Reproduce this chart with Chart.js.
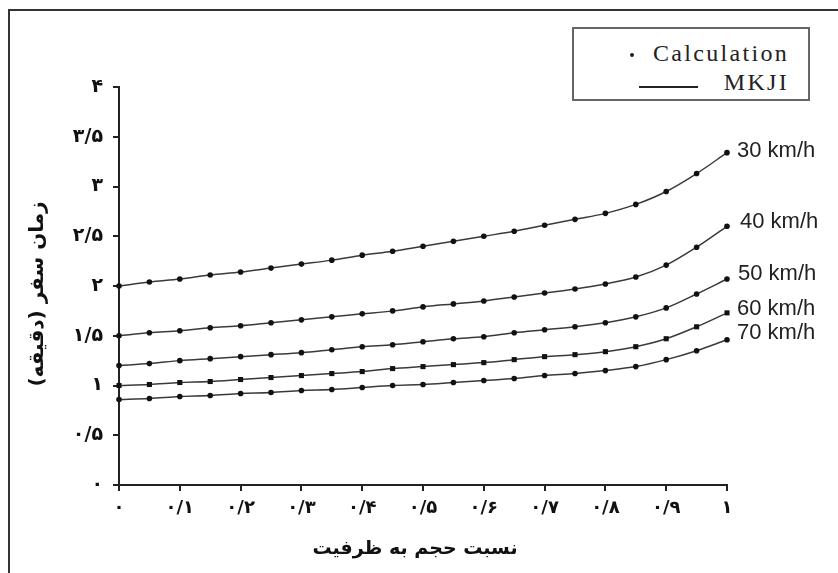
<!DOCTYPE html>
<html lang="fa">
<head>
<meta charset="utf-8">
<script src="https://cdn.jsdelivr.net/npm/chart.js@4/dist/chart.umd.min.js"></script>
<style>
  html, body { margin: 0; padding: 0; background: #fff; overflow: hidden; }
  #wrap { position: relative; width: 838px; height: 573px; }
  #frame { position: absolute; left: 8px; top: 9px; width: 900px; height: 700px;
           border-left: 2px solid #333; border-top: 2px solid #333; }
  #chart { position: absolute; left: 0; top: 0; }
  #legend { position: absolute; left: 572px; top: 27px; width: 234px; height: 70px;
            border: 2px solid #666; background: #fff;
            font-family: "Liberation Serif", "Times New Roman", serif; font-size: 24px;
            color: #222; letter-spacing: 2.3px; }
  #legend .dot { position: absolute; left: 56px; top: 24px; width: 4px; height: 4px;
                 border-radius: 50%; background: #222; }
  #legend .line { position: absolute; left: 65px; top: 57px; width: 59px; height: 2px; background: #222; }
  #legend .t1 { position: absolute; right: 19px; top: 11px; }
  #legend .t2 { position: absolute; right: 19px; top: 40px; }
</style>
</head>
<body>
<div id="wrap">
  <div id="frame"></div>
  <canvas id="chart" width="838" height="573"></canvas>
  <div id="legend">
    <span class="dot"></span><span class="t1">Calculation</span>
    <span class="line"></span><span class="t2">MKJI</span>
  </div>
</div>
<script>
// نسبت حجم به ظرفیت (v/c)
const xValues = [0, 0.05, 0.1, 0.15, 0.2, 0.25, 0.3, 0.35, 0.4, 0.45, 0.5,
                 0.55, 0.6, 0.65, 0.7, 0.75, 0.8, 0.85, 0.9, 0.95, 1];

// زمان سفر (دقیقه) per speed
const speed30 = [2.00, 2.04, 2.07, 2.11, 2.14, 2.18, 2.22, 2.26, 2.31, 2.35, 2.40,
                 2.45, 2.50, 2.55, 2.61, 2.67, 2.73, 2.82, 2.95, 3.13, 3.34];
const speed40 = [1.50, 1.53, 1.55, 1.58, 1.60, 1.63, 1.66, 1.69, 1.72, 1.75, 1.79,
                 1.82, 1.85, 1.89, 1.93, 1.97, 2.02, 2.09, 2.21, 2.39, 2.60];
const speed50 = [1.20, 1.22, 1.25, 1.27, 1.29, 1.31, 1.33, 1.36, 1.39, 1.41, 1.44,
                 1.47, 1.49, 1.53, 1.56, 1.59, 1.63, 1.69, 1.78, 1.92, 2.07];
const speed60 = [1.00, 1.01, 1.03, 1.04, 1.06, 1.08, 1.10, 1.12, 1.14, 1.17, 1.19,
                 1.21, 1.23, 1.26, 1.29, 1.31, 1.34, 1.39, 1.47, 1.59, 1.73];
const speed70 = [0.86, 0.87, 0.89, 0.90, 0.92, 0.93, 0.95, 0.96, 0.98, 1.00, 1.01,
                 1.03, 1.05, 1.07, 1.10, 1.12, 1.15, 1.19, 1.26, 1.35, 1.46];

const speedLabels = ["30 km/h", "40 km/h", "50 km/h", "60 km/h", "70 km/h"];
const xTickLabels = ["۰", "۰/۱", "۰/۲", "۰/۳", "۰/۴", "۰/۵", "۰/۶", "۰/۷", "۰/۸", "۰/۹", "۱"];
const yTickLabels = ["۰", "۰/۵", "۱", "۱/۵", "۲", "۲/۵", "۳", "۳/۵", "۴"];
const xTitle = "نسبت حجم به ظرفیت";
const yTitle = "زمان سفر (دقیقه)\u200F";

// label placement next to the last point of each curve
const labelDx = [10, 13, 11, 10, 10];
const labelDy = [-2, -4, -5, -4, -7];

const series = [speed30, speed40, speed50, speed60, speed70];
const persianFont = "'DejaVu Sans', sans-serif";

const datasets = series.map((vals, i) => ({
  label: speedLabels[i],
  data: xValues.map((x, j) => ({ x, y: vals[j] })),
  borderColor: "#3a3a3a",
  borderWidth: 1.5,
  cubicInterpolationMode: "monotone",
  pointStyle: i === 3 ? "rect" : "circle",
  pointRadius: i === 3 ? 3.6 : 2.8,
  pointBackgroundColor: "#111",
  pointBorderColor: "#111",
  pointBorderWidth: 0,
  clip: false,
}));

// curve names at the right end + both axis titles
const textPlugin = {
  id: "texts",
  afterDatasetsDraw(chart) {
    const ctx = chart.ctx;
    const area = chart.chartArea;
    ctx.save();
    ctx.direction = "ltr";
    ctx.font = '22px "Liberation Sans", Arial, sans-serif';
    ctx.fillStyle = "#222";
    ctx.textAlign = "left";
    ctx.textBaseline = "middle";
    chart.data.datasets.forEach((ds, i) => {
      const pts = chart.getDatasetMeta(i).data;
      const last = pts[pts.length - 1];
      ctx.fillText(speedLabels[i], last.x + labelDx[i], last.y + labelDy[i]);
    });

    ctx.fillStyle = "#111";
    ctx.textAlign = "center";
    ctx.font = "bold 19px " + persianFont;
    ctx.fillText(xTitle, (area.left + area.right) / 2 - 8, 549);

    ctx.translate(38, (area.top + area.bottom) / 2 + 8);
    ctx.rotate(-Math.PI / 2);
    ctx.font = "bold 20px " + persianFont;
    ctx.fillText(yTitle, 0, 0);
    ctx.restore();
  },
};

new Chart(document.getElementById("chart").getContext("2d"), {
  type: "line",
  data: { datasets },
  plugins: [textPlugin],
  options: {
    responsive: false,
    animation: false,
    layout: { padding: { top: 87, right: 111, left: 0, bottom: 0 } },
    plugins: {
      legend: { display: false },
      tooltip: { enabled: false },
    },
    scales: {
      x: {
        type: "linear",
        min: 0,
        max: 1,
        ticks: {
          stepSize: 0.1,
          autoSkip: false,
          maxRotation: 0,
          padding: 7,
          color: "#111",
          font: { family: persianFont, weight: "bold", size: 18 },
          callback: (v, i) => xTickLabels[i],
        },
        grid: { drawOnChartArea: false, drawTicks: true, tickLength: 6, color: "#222", lineWidth: 2 },
        border: { color: "#222", width: 2 },
        afterFit: (s) => { s.height = 88; },
      },
      y: {
        min: 0,
        max: 4,
        ticks: {
          stepSize: 0.5,
          padding: 10,
          color: "#111",
          font: { family: persianFont, weight: "bold", size: 19 },
          callback: (v, i) => yTickLabels[i],
        },
        grid: { drawOnChartArea: false, drawTicks: true, tickLength: 6, color: "#222", lineWidth: 2 },
        border: { color: "#222", width: 2 },
        afterFit: (s) => { s.width = 119; },
      },
    },
  },
});
</script>
</body>
</html>
